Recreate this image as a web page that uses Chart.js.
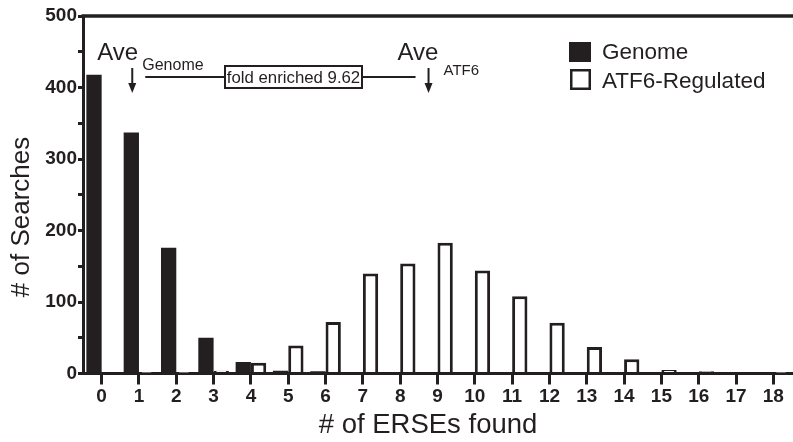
<!DOCTYPE html>
<html><head><meta charset="utf-8">
<script src="https://cdn.jsdelivr.net/npm/chart.js@4.4.0/dist/chart.umd.min.js"></script>
<style>html,body{margin:0;padding:0;background:#fff;}canvas{display:block;}</style>
</head><body>
<canvas id="c" width="793" height="442"></canvas>
<script>
const categories = ['0','1','2','3','4','5','6','7','8','9','10','11','12','13','14','15','16','17','18'];
const genome = [418,337,176,50,16,4,3,0,0,0,0,0,0,0,0,0,0,0,0];
const atf6   = [2,1,1,4,15,39,72,140,154,183,144,108,71,37,20,5,3,2,1];
const yTickLabels = [0,100,200,300,400,500];
const seriesNames = ['Genome','ATF6-Regulated'];
const avgGenome = 0.82, avgATF6 = 8.76;
const foldText = 'fold enriched 9.62';
const xTitle = '# of ERSEs found';
const yTitle = '# of Searches';

const INK = '#231f20';
const FONT = "'Liberation Sans', Arial, Helvetica, sans-serif";

function arrow(ctx, x, y1, y2) {
  ctx.beginPath(); ctx.moveTo(x, y1); ctx.lineTo(x, y2 - 8); ctx.lineWidth = 2; ctx.stroke();
  ctx.beginPath(); ctx.moveTo(x - 4, y2 - 10); ctx.lineTo(x + 4, y2 - 10); ctx.lineTo(x, y2); ctx.closePath(); ctx.fill();
}

const decor = {
  id: 'decor',
  afterDraw(chart) {
    const ctx = chart.ctx, ca = chart.chartArea, xs = chart.scales.x;
    ctx.save();
    ctx.strokeStyle = INK; ctx.fillStyle = INK;
    // top frame line
    ctx.beginPath(); ctx.lineWidth = 3.5;
    ctx.moveTo(ca.left - 1.5, ca.top); ctx.lineTo(chart.width, ca.top); ctx.stroke();

    // axis titles
    ctx.textAlign = 'center'; ctx.textBaseline = 'middle';
    ctx.font = '27.5px ' + FONT;
    ctx.fillText(xTitle, 428, 425.5);
    ctx.save();
    ctx.translate(21.5, 217); ctx.rotate(-Math.PI / 2);
    ctx.font = '26px ' + FONT;
    ctx.fillText(yTitle, 0, 0);
    ctx.restore();

    const gx = xs.getPixelForValue(avgGenome), ax = xs.getPixelForValue(avgATF6);
    ctx.textBaseline = 'alphabetic'; ctx.textAlign = 'left';
    ctx.font = '24px ' + FONT; ctx.fillText('Ave', gx - 35, 60);
    ctx.font = '16px ' + FONT; ctx.fillText('Genome', gx + 10, 70);
    ctx.font = '24px ' + FONT; ctx.fillText('Ave', ax - 31, 60);
    ctx.font = '15px ' + FONT; ctx.fillText('ATF6', ax + 15, 75);
    arrow(ctx, gx, 68, 93);
    arrow(ctx, ax, 68, 93);
    const bl = 225, br = 362, bt = 66, bb = 88, ly = 77;
    ctx.lineWidth = 2;
    ctx.beginPath(); ctx.moveTo(gx + 13, ly); ctx.lineTo(bl, ly); ctx.moveTo(br, ly); ctx.lineTo(ax - 13, ly); ctx.stroke();
    ctx.strokeRect(bl, bt, br - bl, bb - bt);
    ctx.font = '16.8px ' + FONT; ctx.textAlign = 'center'; ctx.textBaseline = 'middle';
    ctx.fillText(foldText, (bl + br) / 2, (bt + bb) / 2 + 1);

    // legend
    ctx.textAlign = 'left'; ctx.textBaseline = 'alphabetic';
    ctx.fillRect(569, 42, 22, 20);
    ctx.lineWidth = 2.5; ctx.strokeRect(571.25, 70.25, 18.5, 18.5);
    ctx.font = '22.5px ' + FONT;
    ctx.fillText(seriesNames[0], 602, 59);
    ctx.fillText(seriesNames[1], 602, 88);
    ctx.restore();
  }
};

new Chart(document.getElementById('c'), {
  type: 'bar',
  data: {
    labels: categories,
    datasets: [
      { label: seriesNames[0], data: genome, backgroundColor: INK, borderColor: INK, borderWidth: 0, categoryPercentage: 0.82, barPercentage: 1 },
      { label: seriesNames[1], data: atf6, backgroundColor: '#ffffff', borderColor: INK, borderWidth: 3, categoryPercentage: 0.82, barPercentage: 1 }
    ]
  },
  options: {
    responsive: false, animation: false, devicePixelRatio: 1,
    layout: { padding: { top: 16, right: 1, bottom: 0, left: 0 } },
    plugins: { legend: { display: false }, tooltip: { enabled: false } },
    scales: {
      x: {
        grid: { display: true, drawOnChartArea: false, drawTicks: true, tickLength: 11, lineWidth: 3, color: INK, offset: false },
        border: { display: true, width: 3, color: INK },
        ticks: { color: INK, font: { family: FONT, size: 19, weight: 'bold' }, padding: 1, autoSkip: false, maxRotation: 0 },
        title: { display: false },
        afterFit(s) { s.height = 442 - 373.5; }
      },
      y: {
        min: 0, max: 500,
        ticks: { stepSize: 50, color: INK, font: { family: FONT, size: 19, weight: 'bold' }, padding: 1,
          callback: v => yTickLabels.includes(v) ? String(v) : '' },
        grid: { drawOnChartArea: false, drawTicks: true, tickLength: 5, lineWidth: 3, color: INK },
        border: { display: true, width: 3, color: INK },
        title: { display: false },
        afterFit(s) { s.width = 83; }
      }
    }
  },
  plugins: [decor]
});
</script>
</body></html>
